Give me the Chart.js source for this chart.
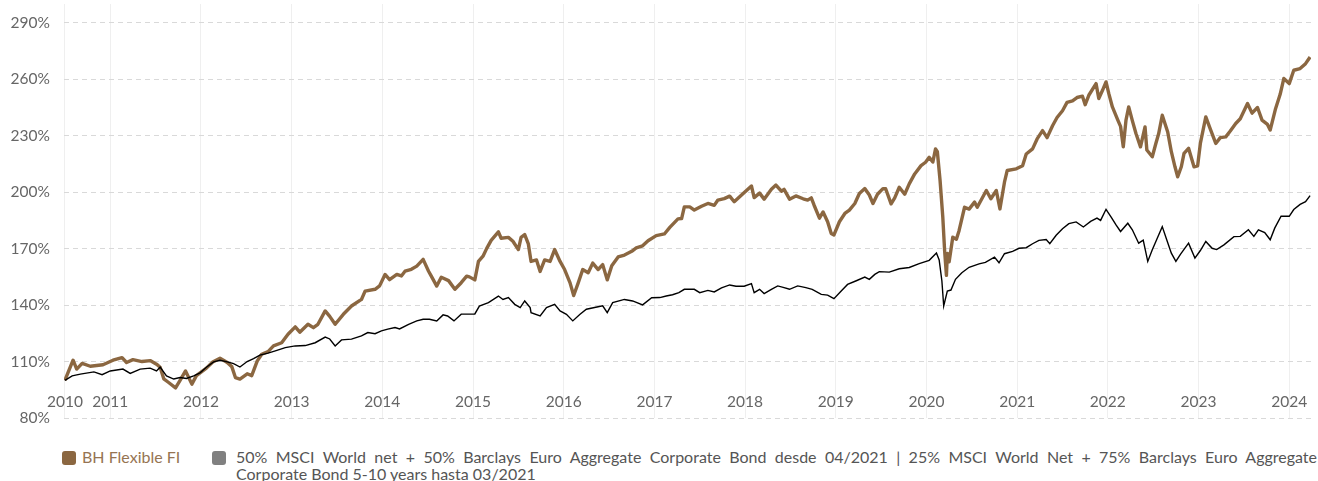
<!DOCTYPE html>
<html>
<head>
<meta charset="utf-8">
<script src="https://cdn.jsdelivr.net/npm/chart.js@4.4.1/dist/chart.umd.min.js"></script>
<style>
html,body{margin:0;padding:0;background:#fff;width:1318px;height:481px;overflow:hidden;font-family:Lato,"Open Sans",sans-serif;}
#wrap{position:absolute;left:0;top:0;width:1318px;height:430px;}
#legend{position:absolute;left:0;top:448px;width:1318px;height:33px;font-size:16px;line-height:17px;}
.box{position:absolute;width:14px;height:14px;border-radius:3px;top:3px;}
.txt{position:absolute;top:0;white-space:nowrap;}
.l1{text-align:justify;text-align-last:justify;white-space:normal;}
</style>
</head>
<body>
<div id="wrap"><canvas id="c" width="1318" height="430"></canvas></div>
<div id="legend"></div>
<script>
// ---- data (decimal year, % value) ----
const fundDates = [
 2010.50,2010.59,2010.63,2010.69,2010.78,2010.92,
 2011.03,2011.13,2011.18,2011.25,2011.35,2011.44,2011.51,2011.55,2011.59,2011.64,2011.72,2011.77,2011.83,2011.90,2011.95,
 2012.06,2012.13,2012.21,2012.29,2012.34,2012.38,2012.43,2012.51,2012.56,2012.62,2012.67,2012.74,2012.80,2012.89,2012.96,
 2013.04,2013.09,2013.18,2013.24,2013.29,2013.37,2013.42,2013.48,2013.57,2013.66,2013.77,2013.81,2013.92,2013.97,
 2014.03,2014.08,2014.16,2014.21,2014.25,2014.32,2014.38,2014.45,2014.51,2014.54,2014.60,2014.65,2014.73,2014.80,2014.87,2014.93,2014.96,
 2015.02,2015.06,2015.11,2015.15,2015.20,2015.28,2015.31,2015.39,2015.44,2015.50,2015.53,2015.57,2015.61,2015.64,2015.70,2015.74,2015.79,2015.85,2015.90,2015.96,
 2016.01,2016.07,2016.11,2016.16,2016.21,2016.27,2016.32,2016.38,2016.43,2016.48,2016.53,2016.60,2016.67,2016.75,2016.80,2016.87,2016.93,
 2017.02,2017.11,2017.17,2017.26,2017.30,2017.33,2017.39,2017.44,2017.52,2017.59,2017.66,2017.70,2017.77,2017.83,2017.88,2017.97,
 2018.07,2018.10,2018.16,2018.21,2018.29,2018.34,2018.40,2018.43,2018.49,2018.56,2018.64,2018.69,2018.73,2018.76,2018.82,2018.86,2018.91,2018.95,2018.98,
 2019.04,2019.10,2019.15,2019.21,2019.26,2019.32,2019.37,2019.41,2019.46,2019.52,2019.55,2019.61,2019.65,2019.70,2019.76,2019.81,2019.87,2019.94,2019.99,
 2020.03,2020.07,2020.10,2020.12,2020.15,2020.18,2020.20,2020.22,2020.23,2020.25,2020.29,2020.33,2020.36,2020.42,2020.47,2020.53,2020.56,2020.66,2020.71,2020.77,2020.81,2020.86,2020.89,2020.99,
 2021.06,2021.10,2021.17,2021.22,2021.28,2021.33,2021.39,2021.44,2021.50,2021.55,2021.61,2021.66,2021.72,2021.75,2021.79,2021.87,2021.90,2021.94,2021.98,
 2022.01,2022.05,2022.11,2022.14,2022.17,2022.20,2022.23,2022.27,2022.31,2022.36,2022.41,2022.43,2022.49,2022.53,2022.56,2022.60,2022.66,2022.70,2022.74,2022.77,2022.81,2022.84,2022.89,2022.95,2022.99,
 2023.02,2023.08,2023.13,2023.19,2023.24,2023.30,2023.35,2023.41,2023.46,2023.54,2023.59,2023.65,2023.70,2023.76,2023.79,2023.85,2023.90,2023.94,
 2024.00,2024.05,2024.12,2024.18,2024.23
];
const fundValues = [
 100,110.7,106,109,107.5,108.3,
 110.7,112.1,109.5,111,110,110.5,108.6,107,100.8,99,96,100,105,98,102.5,
 106.5,109.8,111.8,109.5,107.3,101.5,100.7,103.5,102.5,110.2,113.9,115.3,118.3,120,124.5,
 128.4,125.6,129.8,128,129.8,136.9,134,129.8,135.1,139.5,143,147.4,148.4,150.2,
 156.3,153.5,156.3,155.5,158,159,160.7,164.3,158,155.4,150.1,154.8,153,148.4,151.9,155.4,155,
 153.4,163.2,166,170,174.4,178.9,175.5,176,173.9,169.5,176,177.5,172.5,163.2,164,157.9,164,163.2,169.5,163.2,
 158.9,151.8,145.1,151.8,158.9,157.2,162.3,158.9,161.5,153.4,160.9,165.6,166.6,168.6,170.4,171.5,174.2,
 176.9,177.8,181.3,185.8,186,192.2,192.2,190.5,192.5,194,193,195.8,196.6,197.9,194.9,198.9,
 203.3,197.1,199.5,196.3,201.6,203.8,200.5,201.5,196.3,198,196.5,195.8,197,193.2,186.2,189.5,184.3,178.1,177.3,
 184.3,188.7,190.5,194,199.3,201.9,198.5,194,198.9,201.9,201.8,193.8,197,202.6,198.9,204.4,209.7,214.1,215.9,
 218.5,216,223,221.5,206.2,186.7,169,155.8,167.5,163,176.1,175,179.7,192,191,194.7,192,200.9,196.5,200.9,191.1,205.3,211.5,212.4,
 214.1,220.3,223,228.3,232.7,229,235.3,239.7,243.3,247.7,248.5,250.3,251,246.5,251.5,257.7,249.8,254,258.6,
 252.5,245.3,238.3,235,224.1,238.3,245.3,238,231.2,224.1,234.7,222.4,218.8,226,231,240.9,232,221.5,213.5,208.2,213.5,220.6,223.3,213.5,214,
 225.9,240,233.5,225.9,229,229.4,232.5,236.5,239,247.1,242,245,238.3,236,233,244.5,252,260.4,
 257.7,264.8,265.7,268.3,271.8
];
const benchDates = [
 2010.50,2010.58,2010.67,2010.82,2010.91,
 2011.00,2011.14,2011.22,2011.33,2011.44,2011.51,2011.55,2011.62,2011.70,2011.77,2011.84,2011.92,2011.99,
 2012.06,2012.14,2012.21,2012.29,2012.36,2012.43,2012.51,2012.58,2012.65,2012.74,2012.82,2012.93,
 2013.04,2013.15,2013.26,2013.37,2013.42,2013.48,2013.55,2013.66,2013.77,2013.84,2013.92,2013.99,
 2014.06,2014.14,2014.19,2014.29,2014.38,2014.45,2014.52,2014.60,2014.67,2014.72,2014.79,2014.87,2014.94,
 2015.02,2015.07,2015.17,2015.28,2015.33,2015.39,2015.46,2015.52,2015.57,2015.63,2015.64,2015.74,2015.81,2015.90,2015.96,
 2016.03,2016.10,2016.18,2016.25,2016.34,2016.43,2016.48,2016.54,2016.67,2016.76,2016.87,2016.97,
 2017.06,2017.13,2017.20,2017.27,2017.33,2017.44,2017.50,2017.59,2017.66,2017.74,2017.83,2017.90,2017.99,
 2018.07,2018.10,2018.16,2018.21,2018.29,2018.36,2018.43,2018.49,2018.58,2018.67,2018.74,2018.84,2018.91,2018.98,
 2019.06,2019.13,2019.22,2019.32,2019.37,2019.43,2019.48,2019.59,2019.70,2019.81,2019.92,
 2020.03,2020.11,2020.14,2020.17,2020.19,2020.23,2020.27,2020.32,2020.39,2020.47,2020.58,2020.65,2020.75,2020.80,2020.86,2020.95,
 2021.02,2021.10,2021.17,2021.24,2021.32,2021.36,2021.43,2021.50,2021.57,2021.65,2021.73,2021.81,2021.88,2021.92,2021.98,
 2022.04,2022.09,2022.14,2022.22,2022.27,2022.34,2022.39,2022.44,2022.49,2022.54,2022.60,2022.65,2022.70,2022.75,2022.80,2022.89,2022.96,
 2023.02,2023.08,2023.15,2023.20,2023.28,2023.39,2023.46,2023.55,2023.61,2023.66,2023.73,2023.79,2023.84,2023.91,
 2024.00,2024.05,2024.12,2024.18,2024.23
];
const benchValues = [
 100,102.4,103.3,104.5,103,
 105,106,103.7,106,106.5,105,107,102.4,100.7,101.5,101,102.4,104,
 107,109.8,110.7,109.8,108.9,107.1,110,111.6,113.4,114.5,115.7,117.4,
 118.3,118.5,120,123,122,118.3,121.5,121.9,123.6,125.4,124.8,126.3,
 127.2,128.1,127.3,129.8,131.6,132.5,132.5,131.6,134.8,134.2,131.6,135.2,135.2,
 135.3,139.5,141.3,144.8,143,144,140.4,138.7,142.2,138.7,136,134.2,138.7,140.4,136.9,
 135.1,131.6,135.1,137.8,138.7,139.6,136,141.3,143,142.2,140.1,143.9,
 144,144.8,145.5,146.6,148.4,148.4,146.6,147.8,147,149.2,150.7,150,150,
 151.4,146.6,148.4,146.1,148.4,150.2,149.3,148.4,150.2,149.3,148.4,145.7,145.3,143.4,
 147.5,151,152.8,154.9,153.7,156.3,157.8,157.5,159.3,160,162,
 163.8,167.7,164,152.8,139.5,147.5,148,153.7,157.2,160.1,161.9,162.7,165.5,162.5,167.3,168.5,
 170.2,170.5,172.6,174.4,174.8,172.6,177.1,180.6,183.3,184.2,181.5,184.5,186.2,185,190.9,
 186.5,182.6,179.1,183.5,180,172.9,174.5,163.2,169.4,175,181.7,174.6,167.6,163.2,167,172.9,165,
 169,173.8,170.2,169.5,172,176.4,176.5,180,176.5,180,178.5,174.7,180.9,187.2,
 187.2,190.8,193.5,195,198.2
];
const seriesNames = ['BH Flexible FI',
 '50% MSCI World net + 50% Barclays Euro Aggregate Corporate Bond desde 04/2021 | 25% MSCI World Net + 75% Barclays Euro Aggregate Corporate Bond 5-10 years hasta 03/2021'];
const benchNameLines = ['50% MSCI World net + 50% Barclays Euro Aggregate Corporate Bond desde 04/2021 | 25% MSCI World Net + 75% Barclays Euro Aggregate',
 'Corporate Bond 5-10 years hasta 03/2021'];
const yTicks = [80,110,140,170,200,230,260,290];
const xTickValues = [2010.5,2011,2012,2013,2014,2015,2016,2017,2018,2019,2020,2021,2022,2023,2024];
const xTickLabels = ['2010','2011','2012','2013','2014','2015','2016','2017','2018','2019','2020','2021','2022','2023','2024'];
const colors = ['#8b6741','#000000'];
const legendBoxColors = ['#8b6741','#808080'];

const FONT = 'Lato, "Open Sans", sans-serif';
const chart = new Chart(document.getElementById('c'), {
  type: 'line',
  data: {
    datasets: [
      {label: seriesNames[0], data: fundDates.map((d,i)=>({x:d,y:fundValues[i]})),
       borderColor: colors[0], backgroundColor: colors[0], borderWidth: 3.4, pointRadius: 0, tension: 0, order: 1,
       borderJoinStyle:'round'},
      {label: seriesNames[1], data: benchDates.map((d,i)=>({x:d,y:benchValues[i]})),
       borderColor: colors[1], backgroundColor: colors[1], borderWidth: 1.4, pointRadius: 0, tension: 0, order: 0}
    ]
  },
  options: {
    responsive: false, animation: false,
    layout: {padding: {left: 0, right: 7, top: 4, bottom: 12}},
    plugins: {legend: {display: false}, tooltip: {enabled: false}},
    scales: {
      x: {
        type: 'linear', min: 2010.49, max: 2024.24,
        position: {y: 95},
        afterBuildTicks: s => { s.ticks = xTickValues.map(v => ({value: v})); },
        ticks: {padding: 3, maxRotation: 0, autoSkip: false, color: '#666', font: {family: FONT, size: 15.5},
                callback: (v, i) => xTickLabels[i]},
        grid: {color: '#efefef', lineWidth: 1, drawTicks: false},
        border: {display: false}
      },
      y: {
        min: 80, max: 300,
        afterBuildTicks: s => { s.ticks = yTicks.map(v => ({value: v})); },
        afterFit: s => { s.width = 64; s.paddingTop = 0; s.paddingBottom = 0; },
        ticks: {padding: 14, color: '#666', font: {family: FONT, size: 15.5}, callback: v => v + '%'},
        grid: {color: '#d9d9d9', lineWidth: 1, drawTicks: false},
        border: {display: false, dash: [5, 4]}
      }
    }
  }
});

// HTML legend built from the datasets
const lg = document.getElementById('legend');
lg.innerHTML =
  '<div class="box" style="left:62px;background:' + legendBoxColors[0] + '"></div>' +
  '<div class="txt" style="left:82px;color:#967452">' + chart.data.datasets[0].label + '</div>' +
  '<div class="box" style="left:212px;background:' + legendBoxColors[1] + '"></div>' +
  '<div class="txt" style="left:236px;width:1081px;color:#555;white-space:normal">' +
    '<div class="l1">' + benchNameLines[0] + '</div><div>' + benchNameLines[1] + '</div></div>';
</script>
</body>
</html>
